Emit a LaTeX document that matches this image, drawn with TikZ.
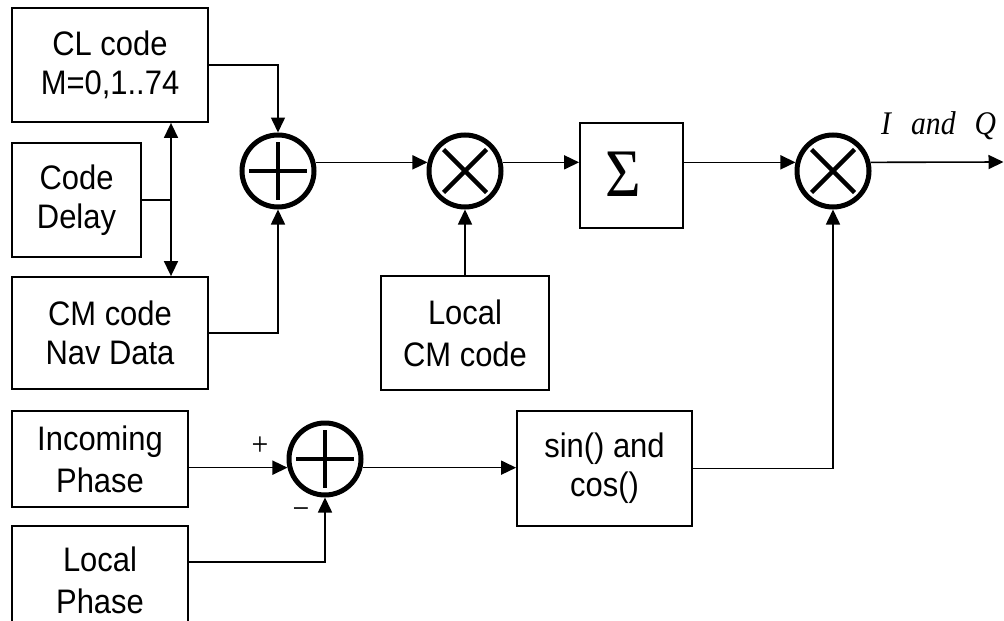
\documentclass[tikz,border=0pt]{standalone}
\usepackage{fontspec}
\setmainfont{Liberation Sans}[FakeStretch=0.91]
\newfontfamily\seriffont{Liberation Serif}[FakeStretch=0.9]
\usetikzlibrary{arrows.meta,calc}
\begin{document}
\begin{tikzpicture}[x=1pt,y=-1pt,
  blk/.style={draw, line width=1.8pt, inner sep=0pt, align=center},
  fa/.style={font=\fontsize{34}{39}\selectfont},
  fb/.style={font=\fontsize{34}{42}\selectfont},
  sumnode/.style={circle, draw, line width=5pt, minimum size=72pt, inner sep=0pt},
  sym/.style={line width=4.5pt},
  conn/.style={line width=1.6pt},
  arr/.style={conn, -{Triangle[length=15pt,width=14pt]}},
  darr/.style={conn, {Triangle[length=15pt,width=14pt]}-{Triangle[length=15pt,width=14pt]}},
  lbl/.style={inner sep=0pt, font=\seriffont\fontsize{33}{33}\selectfont}
]
\useasboundingbox (0,0) rectangle (1004,621);

% boxes
\node[blk,fa,minimum width=196pt,minimum height=114pt] (cl) at (110,65) {CL code\\M=0,1..74};
\node[blk,fa,minimum width=129pt,minimum height=114pt] (cd) at (76.5,200) {Code\\Delay};
\node[blk,fa,minimum width=196pt,minimum height=112pt] (cm) at (110,333) {CM code\\Nav Data};
\node[blk,fb,minimum width=168pt,minimum height=114pt] (lcm) at (465,333) {Local\\CM code};
\node[blk,minimum width=103pt,minimum height=105pt,font=\seriffont\fontsize{68}{68}\selectfont] (sig) at (631.5,175.5) {\raisebox{3pt}{Σ}\hspace{16pt}};
\node[blk,fb,minimum width=176pt,minimum height=96pt] (ip) at (100,459) {Incoming\\Phase};
\node[blk,fb,minimum width=176pt,minimum height=108pt] (lp) at (100,580) {Local\\Phase};
\node[blk,fa,minimum width=175pt,minimum height=115pt] (sc) at (604.5,468.5) {sin() and\\cos()};

% summing / multiplying junctions
\node[sumnode] (s1) at (278,171) {};
\node[sumnode] (m1) at (465,171) {};
\node[sumnode] (m2) at (833,171) {};
\node[sumnode] (s2) at (325,459) {};

\foreach \n in {s1,s2} {
  \draw[sym] ($(\n)+(-29,0)$) -- ($(\n)+(29,0)$);
  \draw[sym] ($(\n)+(0,-29)$) -- ($(\n)+(0,29)$);
}
\foreach \n in {m1,m2} {
  \draw[sym] ($(\n)+(-21.5,-21.5)$) -- ($(\n)+(21.5,21.5)$);
  \draw[sym] ($(\n)+(-21.5,21.5)$) -- ($(\n)+(21.5,-21.5)$);
}

% helper coordinates
\coordinate (dx) at (171,0);
\coordinate (out) at (1003.5,162);
\coordinate (lpc) at ($(lp.north east)+(0,37)$);

% connectors
\draw[arr] (cl.east) -| (s1.north);
\draw[arr] (cm.east) -| (s1.south);
\draw[darr] (cl.south -| dx) -- (cm.north -| dx);
\draw[conn] (cd.east) -- (cd.east -| dx);
\draw[arr] (s1.13) -- (m1.167);
\draw[arr] (lcm.north) -- (m1.south);
\draw[arr] (m1.13) -- (m1.13 -| sig.west);
\draw[arr] (sig.east |- m1.13) -- (m2.167);
\draw[arr] (m2.13) -- (out);
\draw[arr] (s2.193 -| ip.east) -- (s2.193);
\draw[arr] (lpc) -| (s2.south);
\draw[arr] (s2.-13) -- (s2.-13 -| sc.west);
\draw[arr] (sc.east) -| (m2.south);

% labels
\node[lbl, anchor=base west] (iq) at (881,134) {\itshape I\hspace{20pt}and\hspace{19pt}Q};
\node[lbl] (plus) at (260,446) {+};
\node[lbl] (minus) at (301,514) {−};
\end{tikzpicture}
\end{document}
